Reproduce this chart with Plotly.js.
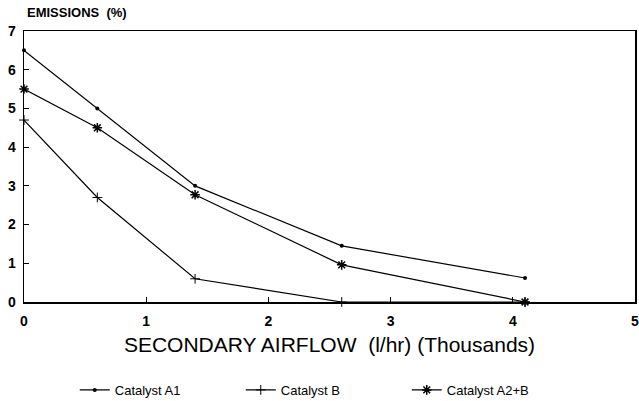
<!DOCTYPE html>
<html>
<head>
<meta charset="utf-8">
<script src="https://cdn.plot.ly/plotly-3.0.1.min.js"></script>
<style>html,body{margin:0;padding:0;background:#fff;}#chart{width:639px;height:401px;}</style>
</head>
<body>
<div id="chart"></div>
<script>
const airflow = [0, 0.6, 1.4, 2.6, 4.1];
const catalystA1 = [6.5, 5.0, 3.0, 1.45, 0.62];
const catalystB = [4.7, 2.7, 0.6, 0.0, 0.0];
const catalystA2B = [5.5, 4.5, 2.77, 0.96, 0.0];
const seriesNames = ["Catalyst A1", "Catalyst B", "Catalyst A2+B"];
const xTicks = [0, 1, 2, 3, 4, 5];
const yTicks = [0, 1, 2, 3, 4, 5, 6, 7];

const fontFam = "Liberation Sans, Arial, sans-serif";
const traces = [
  {x: airflow, y: catalystA1, name: seriesNames[0], mode: "lines+markers", cliponaxis: false,
   line: {color: "#000", width: 1.2},
   marker: {symbol: "circle", size: 4, color: "#000"}},
  {x: airflow, y: catalystB, name: seriesNames[1], mode: "lines+markers", cliponaxis: false,
   line: {color: "#000", width: 1.2},
   marker: {symbol: "cross-thin", size: 7, color: "#000", line: {color: "#000", width: 1}}},
  {x: airflow, y: catalystA2B, name: seriesNames[2], mode: "lines+markers", cliponaxis: false,
   line: {color: "#000", width: 1.2},
   marker: {symbol: "asterisk", size: 8, color: "#000", line: {color: "#000", width: 1.5}}}
];

const layout = {
  width: 639, height: 401,
  margin: {l: 24, r: 4, t: 31, b: 99},
  paper_bgcolor: "#fff", plot_bgcolor: "#fff",
  showlegend: true,
  legend: {orientation: "h", xref: "container", yref: "container",
           x: 0.117, xanchor: "left", y: 0.065, yanchor: "top",
           font: {family: fontFam, size: 13, color: "#000"}, entrywidth: 121, itemwidth: 30},
  xaxis: {range: [0, 5], tickvals: xTicks, ticktext: xTicks.map(String), automargin: false,
          ticks: "inside", ticklen: 5, tickcolor: "#000", showgrid: false, zeroline: false,
          showline: true, linecolor: "#000", linewidth: 1.5, mirror: true,
          ticklabelstandoff: 6, ticklabeloverflow: "allow",
          tickfont: {family: fontFam, size: 14, color: "#000", weight: "bold"},
          title: {text: "SECONDARY AIRFLOW  (l/hr) (Thousands)", standoff: 9,
                  font: {family: fontFam, size: 21, color: "#000"}}},
  yaxis: {range: [0, 7], tickvals: yTicks, ticktext: yTicks.map(String), automargin: false,
          ticks: "inside", ticklen: 5, tickcolor: "#000", showgrid: false, zeroline: false,
          showline: true, linecolor: "#000", linewidth: 1.5, mirror: true,
          ticklabelstandoff: 4, ticklabeloverflow: "allow",
          tickfont: {family: fontFam, size: 14, color: "#000", weight: "bold"}},
  annotations: [{text: "EMISSIONS  (%)", xref: "paper", yref: "paper", x: 0, y: 1,
                 xanchor: "left", yanchor: "bottom", yshift: 9, xshift: 1, showarrow: false,
                 font: {family: fontFam, size: 13, color: "#000", weight: "bold"}}]
};
Plotly.newPlot("chart", traces, layout, {displayModeBar: false, staticPlot: true});
</script>
</body>
</html>
